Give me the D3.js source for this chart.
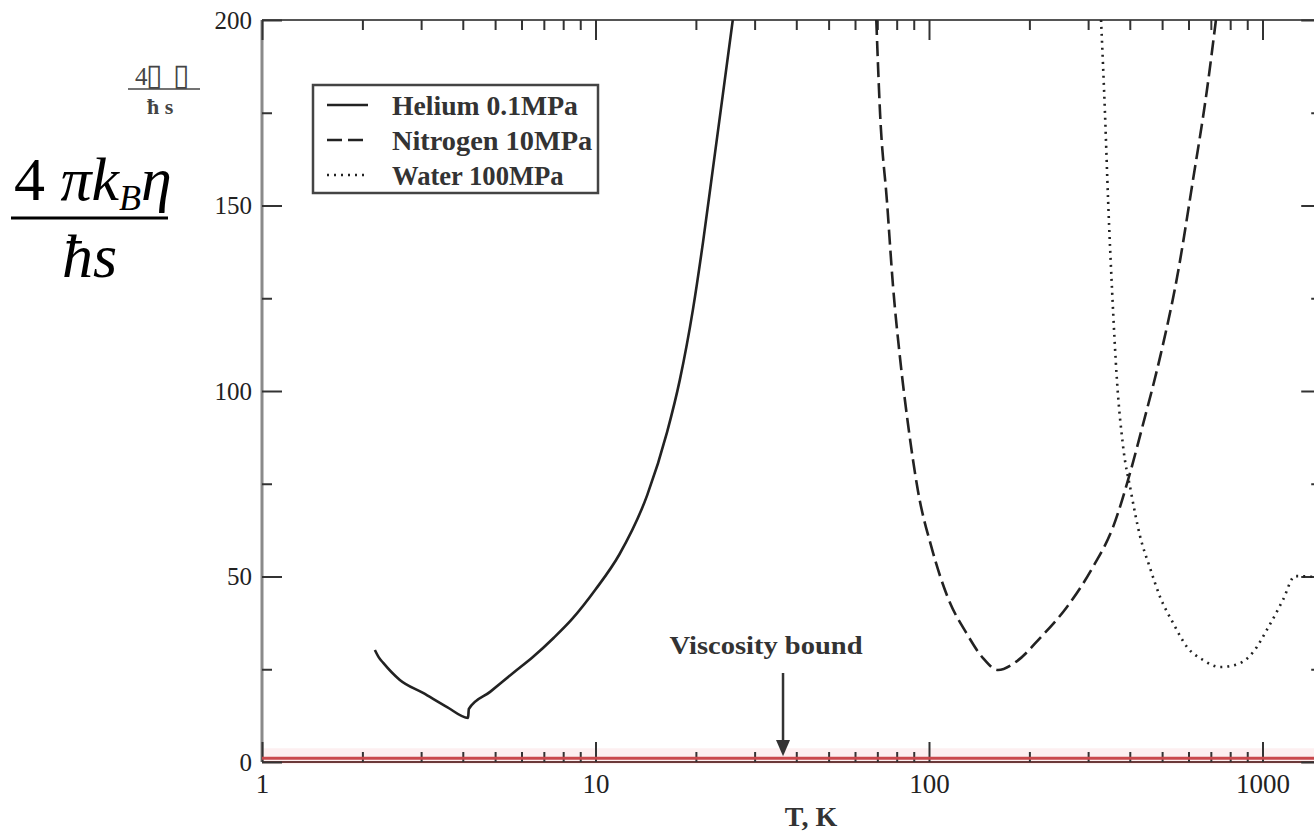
<!DOCTYPE html>
<html>
<head>
<meta charset="utf-8">
<script src="https://cdn.jsdelivr.net/npm/d3@7"></script>
<style>
  body { margin: 0; background: #fff; }
  svg { display: block; }
  text { font-family: "Liberation Serif", "Times New Roman", serif; }
</style>
</head>
<body>
<svg id="chart" width="1314" height="831"></svg>
<script>
// Temperature (K) and 4*pi*kB*eta/(hbar*s) for each fluid
const heliumT = [2.18, 2.24, 2.31, 2.59, 3.04, 3.59, 4.15, 4.17, 4.83, 5.66, 6.49, 7.5, 8.5, 10, 11.8, 14.3, 16.4, 17.9, 19.6, 21.0, 22.5, 24.1, 25.8];
const heliumV = [30.2, 28.2, 26.7, 22.1, 18.6, 14.8, 11.9, 14.3, 18.9, 24.0, 28.3, 33.5, 38.5, 46.5, 56, 72, 89, 103, 122, 140, 160, 180, 200];

const nitrogenT = [69.5, 71.3, 74.8, 78.0, 81.8, 86.5, 92.7, 102.1, 114.0, 130.0, 145.2, 161.0, 183.6, 215.2, 259.2, 310.3, 356.3, 400.7, 438.5, 493.2, 554.6, 619.4, 682.1, 725];
const nitrogenV = [200, 175.2, 151.2, 128.3, 109.2, 91.1, 73.0, 57.4, 44.2, 34.5, 28.0, 24.8, 27.2, 33.4, 41.8, 52.6, 63.3, 77.9, 91.1, 109.2, 130.7, 157.1, 181.4, 200];

const waterT = [328, 337, 344.5, 354, 366, 382, 403, 429, 460, 493, 539, 594, 663, 746, 845, 937, 1038, 1152, 1251, 1427, 1500];
const waterV = [200, 175, 151, 127, 103, 85, 73, 61, 52.3, 44.5, 37.5, 31.0, 27.5, 25.6, 26.4, 29.6, 36.1, 43.7, 50.1, 49.9, 49.8];

// Axis ticks
const xMajor = [1, 10, 100, 1000];
const xMinor = [2, 3, 4, 5, 6, 7, 8, 9, 20, 30, 40, 50, 60, 70, 80, 90, 200, 300, 400, 500, 600, 700, 800, 900];
const yMajor = [0, 50, 100, 150, 200];
const yMinor = [25, 75, 125, 175];

const boundValue = 1;        // 4*pi*kB*eta/(hbar*s) = 1
const boundArrowT = 36.5;

const legendNames = ["Helium 0.1MPa", "Nitrogen 10MPa", "Water 100MPa"];
const legendDash = [null, "15,6", "2,5"];

const svg = d3.select("#chart");
const decade = 333.5, x0 = 262;
const x = d3.scaleLog().domain([1, 1500]).range([x0, x0 + decade * Math.log10(1500)]);
const y = d3.scaleLinear().domain([0, 200]).range([762, 20]);
const [xl, xr] = x.range();
const [yb, yt] = y.range();

svg.append("defs").append("clipPath").attr("id", "plot")
  .append("rect").attr("x", xl).attr("y", yt).attr("width", xr - xl).attr("height", yb - yt);

// faint halo along the bound line
svg.append("rect").attr("x", xl).attr("y", y(boundValue) - 10)
  .attr("width", xr - xl).attr("height", 16).attr("fill", "#fdeff0");

// frame
svg.append("line").attr("x1", xl).attr("x2", xr).attr("y1", yt).attr("y2", yt)
  .attr("stroke", "#555").attr("stroke-width", 2);
svg.append("line").attr("x1", xl).attr("x2", xl).attr("y1", yt).attr("y2", yb)
  .attr("stroke", "#8a8a8a").attr("stroke-width", 3);
svg.append("line").attr("x1", xr).attr("x2", xr).attr("y1", yt).attr("y2", yb)
  .attr("stroke", "#8a8a8a").attr("stroke-width", 3);
svg.append("line").attr("x1", xl).attr("x2", xr).attr("y1", yb).attr("y2", yb)
  .attr("stroke", "#6b3a3a").attr("stroke-width", 2);

function styleAxis(g) {
  g.select(".domain").remove();
  g.selectAll(".tick line").attr("stroke", "#333").attr("stroke-width", 2);
  g.selectAll(".tick text").attr("fill", "#222")
    .style("font-family", "'Liberation Serif', serif");
}

// bottom
svg.append("g").attr("transform", `translate(0,${yb})`)
  .call(d3.axisBottom(x).tickValues(xMajor).tickSize(-20).tickPadding(12).tickFormat(d3.format("d")))
  .call(styleAxis).call(g => g.selectAll(".tick text").attr("font-size", 27));
svg.append("g").attr("transform", `translate(0,${yb})`)
  .call(d3.axisBottom(x).tickValues(xMinor).tickSize(-10).tickFormat(""))
  .call(styleAxis);
// top
svg.append("g").attr("transform", `translate(0,${yt})`)
  .call(d3.axisTop(x).tickValues(xMajor).tickSize(-20).tickFormat(""))
  .call(styleAxis);
svg.append("g").attr("transform", `translate(0,${yt})`)
  .call(d3.axisTop(x).tickValues(xMinor).tickSize(-10).tickFormat(""))
  .call(styleAxis);
// left
svg.append("g").attr("transform", `translate(${xl},0)`)
  .call(d3.axisLeft(y).tickValues(yMajor).tickSize(-20).tickPadding(10))
  .call(styleAxis).call(g => g.selectAll(".tick text").attr("font-size", 25));
svg.append("g").attr("transform", `translate(${xl},0)`)
  .call(d3.axisLeft(y).tickValues(yMinor).tickSize(-10).tickFormat(""))
  .call(styleAxis);
// right
svg.append("g").attr("transform", `translate(${xr},0)`)
  .call(d3.axisRight(y).tickValues(yMajor).tickSize(-20).tickFormat(""))
  .call(styleAxis);
svg.append("g").attr("transform", `translate(${xr},0)`)
  .call(d3.axisRight(y).tickValues(yMinor).tickSize(-10).tickFormat(""))
  .call(styleAxis);

// viscosity bound
svg.append("line").attr("x1", xl).attr("x2", xr)
  .attr("y1", y(boundValue)).attr("y2", y(boundValue))
  .attr("stroke", "#c9484c").attr("stroke-width", 3);

// curves
const line = d3.line().x(d => x(d[0])).y(d => y(d[1])).curve(d3.curveMonotoneX);
const curves = [
  { T: heliumT, V: heliumV, dash: legendDash[0] },
  { T: nitrogenT, V: nitrogenV, dash: legendDash[1] },
  { T: waterT, V: waterV, dash: legendDash[2] }
];
const cg = svg.append("g").attr("clip-path", "url(#plot)");
curves.forEach(c => {
  cg.append("path").datum(d3.zip(c.T, c.V)).attr("d", line)
    .attr("fill", "none").attr("stroke", "#222").attr("stroke-width", 2.6)
    .attr("stroke-dasharray", c.dash);
});

// arrow to the bound
const ax = x(boundArrowT);
svg.append("line").attr("x1", ax).attr("x2", ax).attr("y1", 673).attr("y2", 742)
  .attr("stroke", "#333").attr("stroke-width", 2.5);
svg.append("path")
  .attr("d", `M${ax - 7},740 L${ax + 7},740 L${ax},${y(boundValue) - 2} Z`)
  .attr("fill", "#333");
svg.append("text").attr("x", ax - 17).attr("y", 654).attr("text-anchor", "middle")
  .attr("font-size", 26).attr("font-weight", "bold").attr("fill", "#333")
  .attr("textLength", 193).attr("lengthAdjust", "spacingAndGlyphs")
  .text("Viscosity bound");

// x-axis title
svg.append("text").attr("x", 811).attr("y", 826).attr("text-anchor", "middle")
  .attr("font-size", 28).attr("font-weight", "bold").attr("fill", "#333")
  .text("T, K");

// legend
const lg = svg.append("g");
lg.append("rect").attr("x", 313).attr("y", 85).attr("width", 285).attr("height", 108)
  .attr("fill", "#fff").attr("stroke", "#444").attr("stroke-width", 2.5);
legendNames.forEach((name, i) => {
  const ly = 105 + i * 35;
  lg.append("line").attr("x1", 327).attr("x2", 368).attr("y1", ly).attr("y2", ly)
    .attr("stroke", "#222").attr("stroke-width", 2.6).attr("stroke-dasharray", legendDash[i]);
  lg.append("text").attr("x", 392).attr("y", ly + 10).attr("font-size", 28)
    .attr("font-weight", "bold").attr("fill", "#333")
    .attr("textLength", name.length * 14.3).attr("lengthAdjust", "spacingAndGlyphs")
    .text(name);
});

// small y-axis label
const sl = svg.append("g").attr("fill", "#444");
const sn = sl.append("text").attr("x", 135).attr("y", 85).attr("font-size", 25);
sn.append("tspan").text("4");
sn.append("tspan").attr("x", 146).style("font-family", "'DejaVu Sans', sans-serif")
  .attr("font-size", 30).attr("font-weight", 100).text("\u25AF");
sn.append("tspan").attr("x", 173).style("font-family", "'DejaVu Sans', sans-serif")
  .attr("font-size", 30).attr("font-weight", 100).text("\u25AF");
sl.append("line").attr("x1", 128).attr("x2", 200).attr("y1", 89).attr("y2", 89)
  .attr("stroke", "#444").attr("stroke-width", 1.5);
sl.append("text").attr("x", 147).attr("y", 114).attr("font-size", 22)
  .attr("font-weight", "bold").text("\u0127 s");

// large y-axis label
const bl = svg.append("g").attr("fill", "#000");
const num = bl.append("text").attr("x", 14).attr("y", 200).attr("font-size", 62);
num.append("tspan").text("4 ");
num.append("tspan").attr("font-style", "italic").text("\u03C0k");
num.append("tspan").attr("font-style", "italic").attr("font-size", 36).attr("dy", 10).text("B");
num.append("tspan").attr("font-style", "italic").attr("dy", -10).text("\u03B7");
bl.append("line").attr("x1", 11).attr("x2", 168).attr("y1", 218).attr("y2", 218)
  .attr("stroke", "#000").attr("stroke-width", 3);
bl.append("text").attr("x", 62).attr("y", 277).attr("font-size", 62)
  .attr("font-style", "italic").text("\u0127s");
</script>
</body>
</html>
